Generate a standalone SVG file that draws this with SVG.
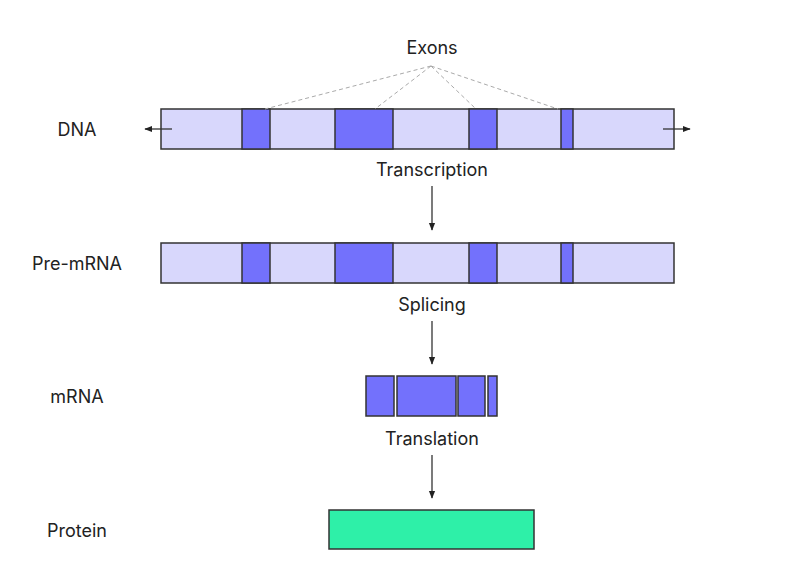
<svg xmlns="http://www.w3.org/2000/svg" width="790" height="574" viewBox="0 0 790 574">
<style>
text{font-family:Inter,"Liberation Sans",sans-serif;font-size:18px;fill:#222}
.i{fill:#d8d7fc;stroke:#333;stroke-width:1.5}
.e{fill:#7371fc;stroke:#333;stroke-width:1.5}
.c{stroke:#333;stroke-width:1.3;fill:none}
.d{stroke:#aaa;stroke-width:1;stroke-dasharray:4 3;fill:none}
</style>
<defs><marker id="a" viewBox="0 0 10 10" refX="9" refY="5" markerWidth="6" markerHeight="6" orient="auto"><path d="M0,1 L10,5 L0,9z" fill="#222"/></marker></defs>
<rect width="790" height="574" fill="#fff"/>
<g id="labels">
<text x="77" y="136" text-anchor="middle">DNA</text>
<text x="77" y="270" text-anchor="middle">Pre-mRNA</text>
<text x="77" y="403" text-anchor="middle">mRNA</text>
<text x="77" y="537" text-anchor="middle">Protein</text>
<text x="432" y="54" text-anchor="middle">Exons</text>
<text x="432" y="176" text-anchor="middle">Transcription</text>
<text x="432" y="311" text-anchor="middle">Splicing</text>
<text x="432" y="445" text-anchor="middle">Translation</text>
</g>
<g id="dna">
<rect class="i" x="161" y="109" width="513" height="40"/>
<rect class="e" x="242" y="109" width="28" height="40"/>
<rect class="e" x="335" y="109" width="58" height="40"/>
<rect class="e" x="469" y="109" width="28" height="40"/>
<rect class="e" x="561" y="109" width="12" height="40"/>
</g>
<g id="premrna">
<rect class="i" x="161" y="243" width="513" height="40"/>
<rect class="e" x="242" y="243" width="28" height="40"/>
<rect class="e" x="335" y="243" width="58" height="40"/>
<rect class="e" x="469" y="243" width="28" height="40"/>
<rect class="e" x="561" y="243" width="12" height="40"/>
</g>
<g id="mrna">
<rect class="e" x="366" y="376" width="28" height="40"/>
<rect class="e" x="397" y="376" width="59" height="40"/>
<rect class="e" x="458" y="376" width="27" height="40"/>
<rect class="e" x="488" y="376" width="9" height="40"/>
</g>
<g id="protein"><rect x="329" y="510" width="205" height="39" fill="#2ef0a8" stroke="#333" stroke-width="1.5"/></g>
<g id="connectors">
<path class="d" d="M431,66 L265,109 M431,66 L375,109 M431,66 L476,109 M431,66 L558,109"/>
<line class="c" x1="172" y1="129" x2="145" y2="129" marker-end="url(#a)"/>
<line class="c" x1="663" y1="129" x2="690" y2="129" marker-end="url(#a)"/>
<line class="c" x1="432" y1="186" x2="432" y2="230" marker-end="url(#a)"/>
<line class="c" x1="432" y1="321" x2="432" y2="364" marker-end="url(#a)"/>
<line class="c" x1="432" y1="455" x2="432" y2="498" marker-end="url(#a)"/>
</g>
</svg>
